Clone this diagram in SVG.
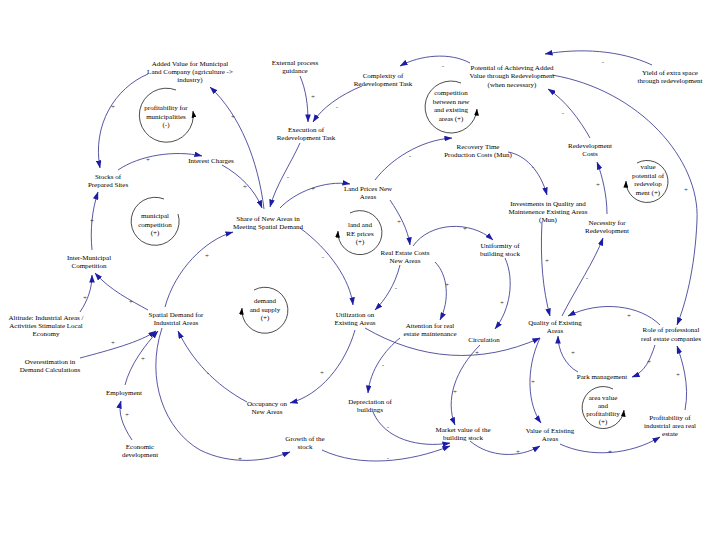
<svg xmlns="http://www.w3.org/2000/svg" width="720" height="540" viewBox="0 0 720 540">
<defs>
<marker id="ah" viewBox="0 0 10 7" markerWidth="8" markerHeight="5.6" refX="9.5" refY="3.5" orient="auto" markerUnits="userSpaceOnUse"><path d="M0,0 L10,3.5 L0,7 z" fill="#1c1ca6"/></marker>
<marker id="lh" viewBox="0 0 10 7" markerWidth="7" markerHeight="5" refX="9.5" refY="3.5" orient="auto" markerUnits="userSpaceOnUse"><path d="M0,0 L10,3.5 L0,7 z" fill="#000"/></marker>
<style>
text{font-family:"Liberation Serif","Times New Roman",serif;font-size:7px;fill:#000;text-anchor:middle}
.c{fill:none;stroke:#2c2c8c;stroke-width:0.8;marker-end:url(#ah)}
.l{fill:none;stroke:#000;stroke-width:0.7;marker-end:url(#lh)}
.ln{fill:none;stroke:#000;stroke-width:0.7}
.s{font-size:7px;fill:#333}
</style>
</defs>
<rect width="720" height="540" fill="#fff"/>
<g id="connectors">
<path class="c" d="M148,74 C115,88 92,125 100,168"/><text class="s" x="113" y="109">+</text>
<path class="c" d="M264,209 C258,160 240,115 210,87"/><text class="s" x="233" y="119">+</text>
<path class="c" d="M118,170 C140,155 175,150 202,156"/><text class="s" x="148" y="162">+</text>
<path class="c" d="M222,165 C240,175 255,190 262,208"/><text class="s" x="245" y="189">+</text>
<path class="c" d="M300,76 C306,90 308,105 308,122"/><text class="s" x="313" y="99">+</text>
<path class="c" d="M362,86 C340,95 322,108 313,122"/><text class="s" x="337" y="109">-</text>
<path class="c" d="M300,143 C290,165 276,185 270,207"/><text class="s" x="288" y="179">-</text>
<path class="c" d="M280,208 C295,192 325,180 350,184"/><text class="s" x="313" y="191">+</text>
<path class="c" d="M470,63 C450,52 420,55 400,66"/><text class="s" x="443" y="68">-</text>
<path class="c" d="M652,65 C620,50 580,48 545,54"/><text class="s" x="603" y="64">-</text>
<path class="c" d="M552,75 C640,90 700,160 697,220 C695,270 685,305 677,325"/><text class="s" x="686" y="192">+</text>
<path class="c" d="M590,138 C580,120 565,100 548,89"/><text class="s" x="563" y="115">-</text>
<path class="c" d="M607,214 C607,195 602,175 597,162"/><text class="s" x="598" y="187">+</text>
<path class="c" d="M562,316 C575,290 595,260 603,238"/><text class="s" x="587" y="280">-</text>
<path class="c" d="M542,222 C540,260 543,290 550,316"/><text class="s" x="547" y="263">+</text>
<path class="c" d="M508,152 C525,155 540,170 547,195"/><text class="s" x="533" y="169">-</text>
<path class="c" d="M660,325 C640,305 600,300 568,316"/><text class="s" x="629" y="318">+</text>
<path class="c" d="M578,372 C565,365 558,350 558,336"/><text class="s" x="573" y="355">+</text>
<path class="c" d="M655,345 C650,360 645,372 632,377"/><text class="s" x="649" y="364">+</text>
<path class="c" d="M685,410 C690,385 682,360 677,346"/><text class="s" x="678" y="377">+</text>
<path class="c" d="M560,444 C590,458 630,455 660,437"/><text class="s" x="610" y="454">+</text>
<path class="c" d="M540,338 C525,370 528,405 541,423"/><text class="s" x="533" y="384">+</text>
<path class="c" d="M470,441 C490,458 520,458 540,446"/><text class="s" x="518" y="454">+</text>
<path class="c" d="M365,328 C420,360 480,365 540,338"/><text class="s" x="477" y="355">+</text>
<path class="c" d="M400,338 C385,350 370,370 368,393"/><text class="s" x="383" y="367">-</text>
<path class="c" d="M373,412 C385,440 420,448 450,443"/><text class="s" x="388" y="429">-</text>
<path class="c" d="M322,450 C360,468 410,462 450,446"/><text class="s" x="388" y="460">-</text>
<path class="c" d="M480,345 C455,370 445,400 455,425"/><text class="s" x="455" y="394">+</text>
<path class="c" d="M505,258 C515,280 510,310 495,329"/><text class="s" x="502" y="305">+</text>
<path class="c" d="M413,246 C430,222 470,220 493,240"/><text class="s" x="465" y="231">+</text>
<path class="c" d="M435,262 C448,275 450,300 440,320"/><text class="s" x="447" y="287">+</text>
<path class="c" d="M400,265 C395,285 385,300 375,310"/><text class="s" x="396" y="290">-</text>
<path class="c" d="M390,200 C400,215 408,230 410,245"/><text class="s" x="399" y="224">+</text>
<path class="c" d="M300,228 C330,250 350,280 353,305"/><text class="s" x="323" y="259">-</text>
<path class="c" d="M165,307 C175,270 205,240 233,232"/><text class="s" x="207" y="258">+</text>
<path class="c" d="M148,310 C130,300 110,290 95,273"/><text class="s" x="131" y="304">+</text>
<path class="c" d="M80,312 C88,300 92,288 92,275"/><text class="s" x="85" y="300">+</text>
<path class="c" d="M92,250 C90,230 92,210 98,192"/><text class="s" x="92" y="223">+</text>
<path class="c" d="M375,180 C390,160 420,140 452,138"/><text class="s" x="410" y="158">-</text>
<path class="c" d="M162,328 C145,380 165,430 200,450 C230,465 265,462 290,452"/><text class="s" x="240" y="461">+</text>
<path class="c" d="M247,402 C215,385 192,360 178,331"/><text class="s" x="208" y="375">-</text>
<path class="c" d="M355,330 C345,365 320,395 290,403"/><text class="s" x="322" y="375">+</text>
<path class="c" d="M80,358 C110,350 140,342 156,331"/><text class="s" x="113" y="345">+</text>
<path class="c" d="M125,385 C130,365 145,345 158,331"/><text class="s" x="143" y="361">+</text>
<path class="c" d="M132,440 C122,425 118,412 121,401"/><text class="s" x="127" y="417">+</text>
</g>
<g id="loops">
<g id="loop-profit"><path class="l" d="M176,90 A27,27 0 1 0 193,111"/><text x="166" y="110">profitability for</text><text x="166" y="118.5">municipalities</text><text x="166" y="127">(-)</text></g>
<g id="loop-comp"><path class="l" d="M461,83 A26,26 0 1 0 477,109"/><text x="451" y="95">competition</text><text x="451" y="103.5">between new</text><text x="451" y="112">and existing</text><text x="451" y="120.5">areas (+)</text></g>
<g id="loop-value"><path class="l" d="M637,163 A21,21 0 1 1 626,181"/><text x="648" y="169">value</text><text x="648" y="177.5">potential of</text><text x="648" y="186">redevelop</text><text x="648" y="194.5">ment (+)</text></g>
<g id="loop-muni"><path class="ln" d="M164,199 A24,24 0 1 0 178,214"/><text x="155" y="218">municipal</text><text x="155" y="226.5">competition</text><text x="155" y="235">(+)</text></g>
<g id="loop-land"><path class="l" d="M350,213 A22,22 0 1 1 338,231"/><text x="360" y="227">land and</text><text x="360" y="235.5">RE prices</text><text x="360" y="244">(+)</text></g>
<g id="loop-demand"><path class="l" d="M254,290 A23,23 0 1 1 242,308"/><text x="265" y="303">demand</text><text x="265" y="311.5">and supply</text><text x="265" y="320">(+)</text></g>
<g id="loop-area"><path class="l" d="M613,389 A21,21 0 1 0 624,410"/><text x="603" y="400">area value</text><text x="603" y="408">and</text><text x="603" y="416">profitability</text><text x="603" y="424">(+)</text></g>
</g>
<g id="n-added"><text x="190" y="65.5">Added Value for Municipal</text><text x="190" y="73.5">Land Company (agriculture -&gt;</text><text x="190" y="82">industry)</text></g>
<g id="n-ext"><text x="295" y="64.5">External process</text><text x="295" y="72.5">guidance</text></g>
<g id="n-complex"><text x="383" y="77.5">Complexity of</text><text x="383" y="86">Redevelopment Task</text></g>
<g id="n-potential"><text x="512" y="69.5">Potential of Achieving Added</text><text x="512" y="78">Value through Redevelopment</text><text x="512" y="86.5">(when necessary)</text></g>
<g id="n-yield"><text x="670" y="74.5">Yield of extra space</text><text x="670" y="82.5">through redevelopment</text></g>
<g id="n-exec"><text x="306" y="131.5">Execution of</text><text x="306" y="140">Redevelopment Task</text></g>
<g id="n-interest"><text x="211" y="162.5">Interest Charges</text></g>
<g id="n-stocks"><text x="108" y="178.5">Stocks of</text><text x="108" y="186.5">Prepared Sites</text></g>
<g id="n-recovery"><text x="478" y="148.5">Recovery Time</text><text x="478" y="157">Production Costs (Mun)</text></g>
<g id="n-redevcost"><text x="590" y="147.5">Redevelopment</text><text x="590" y="156">Costs</text></g>
<g id="n-invest"><text x="548" y="205.5">Investments in Quality and</text><text x="548" y="213.5">Maintenence Existing Areas</text><text x="548" y="221.5">(Mun)</text></g>
<g id="n-landprice"><text x="368" y="190.5">Land Prices New</text><text x="368" y="199">Areas</text></g>
<g id="n-share"><text x="268" y="220.5">Share of New Areas in</text><text x="268" y="229">Meeting Spatial Demand</text></g>
<g id="n-recost"><text x="405" y="254.5">Real Estate Costs</text><text x="405" y="262.5">New Areas</text></g>
<g id="n-unif"><text x="500" y="247.5">Uniformity of</text><text x="500" y="255.5">building stock</text></g>
<g id="n-necess"><text x="607" y="224.5">Necessity for</text><text x="607" y="233">Redevelopment</text></g>
<g id="n-inter"><text x="89" y="259.5">Inter-Municipal</text><text x="89" y="268">Competition</text></g>
<g id="n-spatial"><text x="176" y="316.5">Spatial Demand for</text><text x="176" y="324.5">Industrial Areas</text></g>
<g id="n-util"><text x="355" y="316.5">Utilization on</text><text x="355" y="325">Existing Areas</text></g>
<g id="n-altitude"><text x="46" y="319.5">Altitude: Industrial Areas /</text><text x="46" y="327.5">Activities Stimulate Local</text><text x="46" y="336">Economy</text></g>
<g id="n-attention"><text x="430" y="327.5">Attention for real</text><text x="430" y="335.5">estate maintenance</text></g>
<g id="n-quality"><text x="555" y="324.5">Quality of Existing</text><text x="555" y="333">Areas</text></g>
<g id="n-role"><text x="671" y="332">Role of professional</text><text x="671" y="341">real estate companies</text></g>
<g id="n-circ"><text x="484" y="341.5">Circulation</text></g>
<g id="n-overest"><text x="50" y="363.5">Overestimation in</text><text x="50" y="371.5">Demand Calculations</text></g>
<g id="n-park"><text x="602" y="378.5">Park management</text></g>
<g id="n-employ"><text x="124" y="394.5">Employment</text></g>
<g id="n-depr"><text x="370" y="403.5">Depreciation of</text><text x="370" y="411.5">buildings</text></g>
<g id="n-occ"><text x="267" y="405.5">Occupancy on</text><text x="267" y="414">New Areas</text></g>
<g id="n-profit"><text x="670" y="419.5">Profitability of</text><text x="670" y="427.5">industrial area real</text><text x="670" y="435.5">estate</text></g>
<g id="n-market"><text x="463" y="431.5">Market value of the</text><text x="463" y="439.5">building stock</text></g>
<g id="n-value"><text x="550" y="432.5">Value of Existing</text><text x="550" y="440.5">Areas</text></g>
<g id="n-growth"><text x="305" y="440.5">Growth of the</text><text x="305" y="448.5">stock</text></g>
<g id="n-econ"><text x="140" y="448.5">Economic</text><text x="140" y="456.5">development</text></g>
</svg>
